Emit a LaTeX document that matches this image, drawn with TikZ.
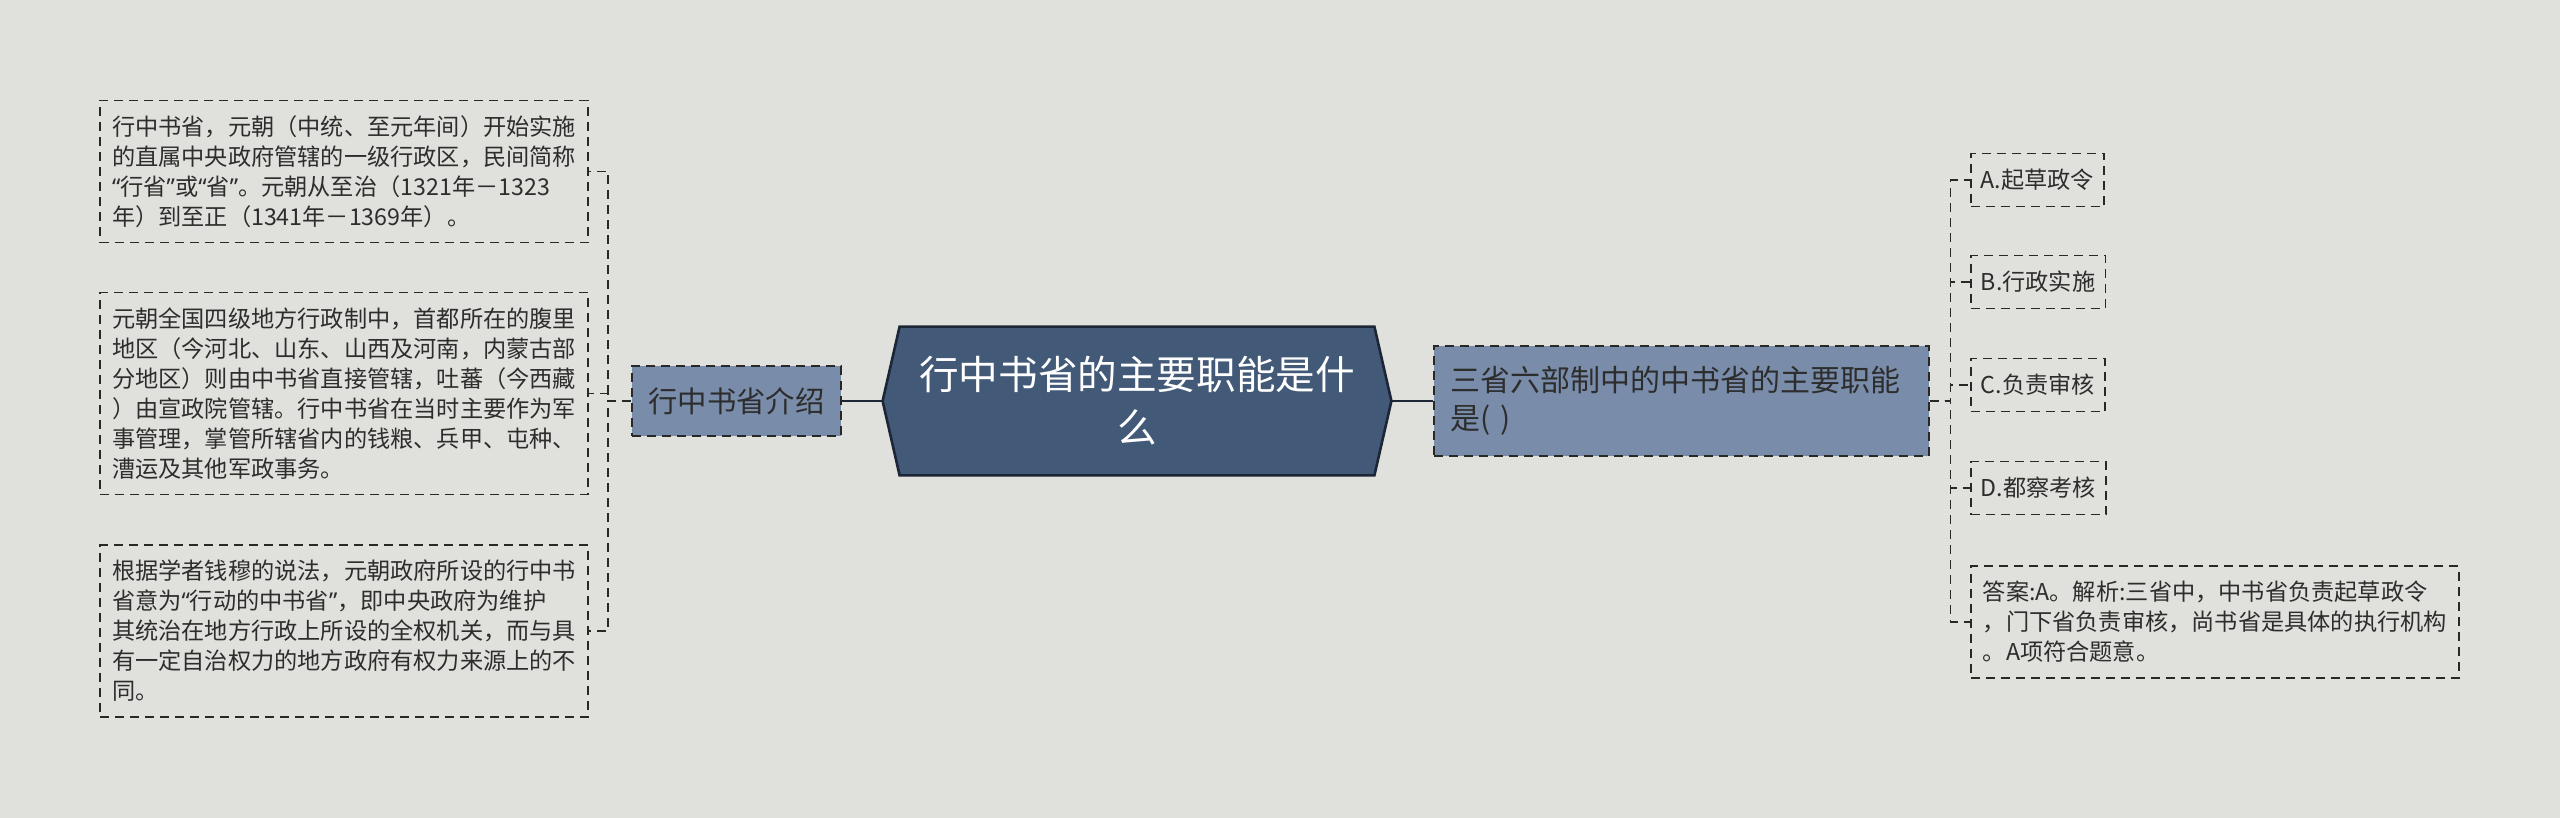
\documentclass[tikz,border=0pt]{standalone}
\usepackage{fontspec}
\setmainfont{Noto Sans CJK SC}
\newfontfamily\quotefont{Noto Sans}
\newcommand{\cq}[1]{{\quotefont “}#1{\quotefont ”}}
\usetikzlibrary{backgrounds}
\begin{document}
\begin{tikzpicture}[x=0.5pt,y=-0.5pt,
    note/.style={draw=linec, dash pattern=on 4.5pt off 3pt, line width=0.8pt,
      text=textc, align=left, text width=232pt, inner xsep=6pt, inner ysep=7.5pt,
      font=\fontsize{11.6pt}{15pt}\selectfont},
    option/.style={draw=linec, dash pattern=on 4.5pt off 3pt, line width=0.8pt,
      text=textc, minimum width=65pt, minimum height=26.5pt, inner xsep=5pt,
      font=\fontsize{11.6pt}{15pt}\selectfont},
    topic/.style={draw=linec, fill=subc, dash pattern=on 4.5pt off 3pt, line width=0.8pt,
      text=textc},
    link/.style={draw=linec, dash pattern=on 4.5pt off 3pt, line width=0.8pt},
    trunk/.style={draw=rootline, line width=1.3pt}]
        % Define colors
        \definecolor{bgc}{RGB}{224, 225, 220}
        \definecolor{rootc}{RGB}{66, 90, 120}
        \definecolor{rootline}{RGB}{28, 38, 54}
        \definecolor{subc}{RGB}{121, 141, 171}
        \definecolor{linec}{RGB}{40, 40, 40}
        \definecolor{textc}{RGB}{45, 45, 45}

        \useasboundingbox (0,0) rectangle (2560,818);

        % --- ROOT ---
        \node[minimum width=254pt, minimum height=74pt, inner sep=0pt, text=white,
          align=center, font=\fontsize{19.8pt}{26.5pt}\selectfont]
          (root) at (1137,401) {行中书省的主要职能是什\\么};
        \begin{scope}[on background layer]
            \fill[bgc] (0,0) rectangle (2560,818);
            \filldraw[fill=rootc, draw=rootline, line width=1.3pt]
              ([xshift=8.5pt]root.north west) -- ([xshift=-8.5pt]root.north east)
              -- (root.east) -- ([xshift=-8.5pt]root.south east)
              -- ([xshift=8.5pt]root.south west) -- (root.west) -- cycle;
        \end{scope}

        % --- LEFT BRANCH ---
        \node[topic, minimum width=104.5pt, minimum height=35pt,
          font=\fontsize{14.7pt}{18pt}\selectfont] (intro) at (736.5,401) {行中书省介绍};
        \draw[trunk] (root.west) -- (intro.east);

        \node[note] (note1) at (344,171.5) {行中书省，元朝（中统、至元年间）开始实施\\的直属中央政府管辖的一级行政区，民间简称\\\cq{行省}或\cq{省}。元朝从至治（1321年－1323\\年）到至正（1341年－1369年）。};
        \node[note] (note2) at (344,393.5) {元朝全国四级地方行政制中，首都所在的腹里\\地区（今河北、山东、山西及河南，内蒙古部\\分地区）则由中书省直接管辖，吐蕃（今西藏\\）由宣政院管辖。行中书省在当时主要作为军\\事管理，掌管所辖省内的钱粮、兵甲、屯种、\\漕运及其他军政事务。};
        \node[note] (note3) at (344,631) {根据学者钱穆的说法，元朝政府所设的行中书\\省意为\cq{行动的中书省}，即中央政府为维护\\其统治在地方行政上所设的全权机关，而与具\\有一定自治权力的地方政府有权力来源上的不\\同。};
        \foreach \n in {note1, note2, note3}
            \draw[link] (intro.west) -- ++(-11.5pt,0) |- (\n.east);

        % --- RIGHT BRANCH ---
        \node[topic, anchor=west, align=left, text width=231pt, inner xsep=8.25pt,
          minimum height=55pt, font=\fontsize{15pt}{18.75pt}\selectfont]
          (quest) at (1433,401) {三省六部制中的中书省的主要职能\\是( )};
        \draw[trunk] (root.east) -- (quest.west);

        \foreach \name/\txt/\y in {optA/A.起草政令/180, optB/B.行政实施/282,
                                   optC/C.负责审核/385, optD/D.都察考核/488} {
            \node[option, anchor=west] (\name) at (1970,\y) {\txt};
            \draw[link] (quest.east) -- ++(10.5pt,0) |- (\name.west);
        }

        \node[note, anchor=west] (answer) at (1970,622) {答案:A。解析:三省中，中书省负责起草政令\\，门下省负责审核，尚书省是具体的执行机构\\。A项符合题意。};
        \draw[link] (quest.east) -- ++(10.5pt,0) |- (answer.west);
    \end{tikzpicture}
\end{document}
